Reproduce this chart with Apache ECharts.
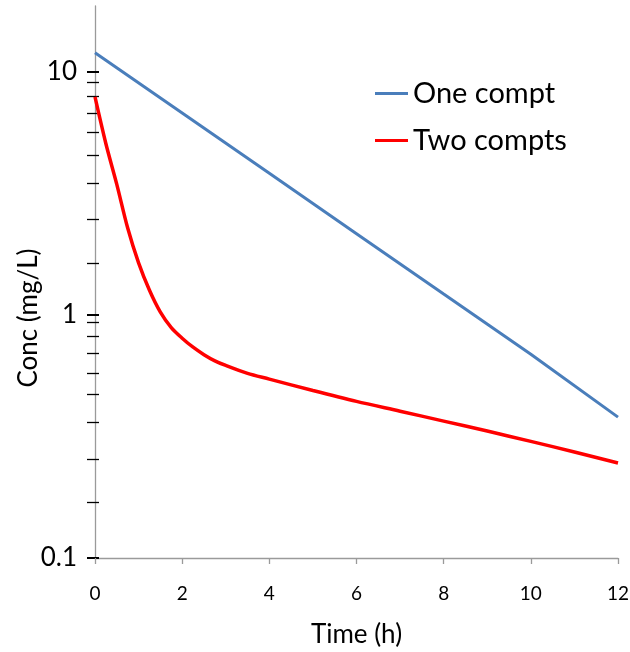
<!DOCTYPE html>
<html>
<head>
<meta charset="utf-8">
<script src="https://cdn.jsdelivr.net/npm/echarts@6/dist/echarts.min.js"></script>
<style>html,body{margin:0;padding:0;background:#fff}#c{width:630px;height:652px}</style>
</head>
<body>
<div id="c"></div>
<script>
// Data
const oneComptTime = [0, 2, 4, 6, 8, 10, 12];
const oneComptConc = [12.0, 6.78, 3.83, 2.16, 1.22, 0.69, 0.38];
const twoComptTime = [0, 0.25, 0.5, 0.75, 1, 1.25, 1.5, 1.75, 2, 2.25, 2.5, 2.75, 3, 3.5, 4, 5, 6, 7, 8, 9, 10, 11, 12];
const twoComptConc = [7.9, 5.07, 3.45, 2.28, 1.64, 1.265, 1.028, 0.888, 0.803, 0.737, 0.687, 0.648, 0.62, 0.575, 0.545, 0.489, 0.441, 0.402, 0.366, 0.333, 0.302, 0.273, 0.246];
const seriesNames = ['One compt', 'Two compts'];
const xTicks = [0, 2, 4, 6, 8, 10, 12];
const yMajorTicks = [0.1, 1, 10];
const yMinorTicks = [0.169, 0.255, 0.362, 0.47, 0.578, 0.699, 0.819, 0.933,
                     1.64, 2.47, 3.5, 4.55, 5.63, 6.77, 7.96, 9.04];
const yMin = 0.1, yMax = 18.7;

const FONT = 'Lato';
const chart = echarts.init(document.getElementById('c'), null, {renderer: 'canvas'});

function yAx(extra) {
  return Object.assign({
    type: 'log', logBase: 10, min: yMin, max: yMax, position: 'left', offset: 0,
    splitLine: {show: false},
    axisLine: {show: false},
    axisLabel: {show: false},
    axisTick: {show: false}
  }, extra);
}

chart.setOption({
  animation: false,
  backgroundColor: '#ffffff',
  grid: {left: 95, right: 12, top: 6, bottom: 94, containLabel: false, outerBoundsMode: 'none'},
  legend: [
    {data: [seriesNames[0]], left: 375, top: 79, padding: 0, icon: 'rect', itemWidth: 33, itemHeight: 3,
     textStyle: {fontFamily: FONT, fontSize: 29, color: '#000'}},
    {data: [seriesNames[1]], left: 375, top: 126, padding: 0, icon: 'rect', itemWidth: 33, itemHeight: 3,
     textStyle: {fontFamily: FONT, fontSize: 29, color: '#000'}}
  ],
  xAxis: {
    type: 'value', min: 0, max: 12, interval: 2,
    name: 'Time (h)', nameLocation: 'middle', nameGap: 64, nameMoveOverlap: false,
    nameTextStyle: {fontFamily: FONT, fontSize: 26, color: '#000'},
    splitLine: {show: false},
    axisLine: {lineStyle: {color: '#9a9a9a', width: 1.3}},
    axisTick: {length: 6, lineStyle: {color: '#9a9a9a', width: 1.3}, customValues: xTicks},
    axisLabel: {fontFamily: FONT, fontSize: 19, color: '#000', margin: 26, customValues: xTicks}
  },
  yAxis: [
    yAx({
      name: 'Conc (mg/L)', nameLocation: 'middle', nameGap: 53, nameMoveOverlap: false,
      nameTextStyle: {fontFamily: FONT, fontSize: 26, color: '#000', padding: [0, 72, 0, 0]},
      axisLine: {show: true, lineStyle: {color: '#9a9a9a', width: 1.3}},
      axisTick: {show: true, length: 8, customValues: yMajorTicks, lineStyle: {color: '#000', width: 2}},
      axisLabel: {show: true, fontFamily: FONT, fontSize: 26, color: '#000', margin: 18,
                  customValues: yMajorTicks, verticalAlign: 'middle', padding: [0, 0, 11, 0],
                  formatter: v => String(v)}
    }),
    yAx({axisTick: {show: true, length: 8, customValues: yMinorTicks, lineStyle: {color: '#000', width: 1.3}}}),
    yAx({axisTick: {show: true, inside: true, length: 4, customValues: yMajorTicks, lineStyle: {color: '#000', width: 2}}}),
    yAx({axisTick: {show: true, inside: true, length: 4, customValues: yMinorTicks, lineStyle: {color: '#000', width: 1.3}}})
  ],
  series: [
    {name: seriesNames[0], type: 'line', yAxisIndex: 0, showSymbol: false, symbol: 'none',
     color: '#4a7ebb', lineStyle: {width: 3, color: '#4a7ebb'},
     data: oneComptTime.map((t, i) => [t, oneComptConc[i]])},
    {name: seriesNames[1], type: 'line', yAxisIndex: 0, showSymbol: false, symbol: 'none',
     smooth: 0.3,
     color: '#ff0000', lineStyle: {width: 3.5, color: '#ff0000'},
     data: twoComptTime.map((t, i) => [t, twoComptConc[i]])}
  ]
});
</script>
</body>
</html>
